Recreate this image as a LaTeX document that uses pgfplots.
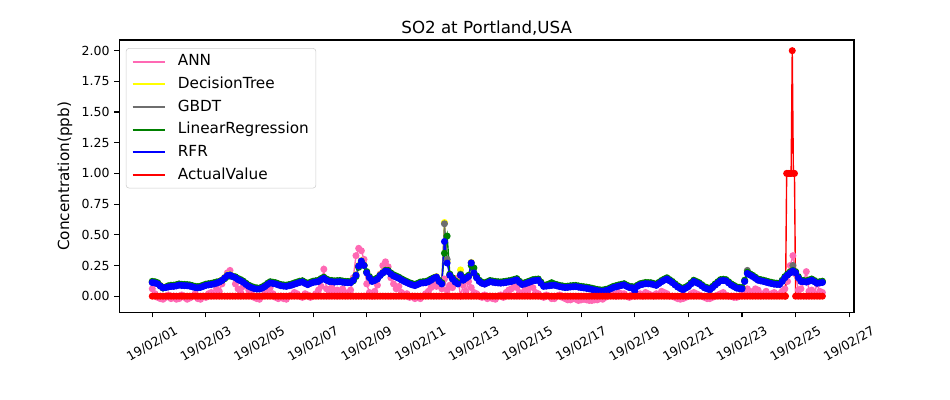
\documentclass[border=0pt]{standalone}
\usepackage{pgfplots}
\pgfplotsset{compat=1.18}
\usepackage{pgfplotstable}
\usepackage{fontspec}
\setmainfont{DejaVu Sans}
\definecolor{annpink}{RGB}{255,105,180}
\definecolor{dtyellow}{RGB}{255,255,0}
\definecolor{gbdtgray}{RGB}{110,110,110}
\definecolor{lrgreen}{RGB}{0,128,0}
\definecolor{rfrblue}{RGB}{0,0,255}
\definecolor{actred}{RGB}{255,0,0}
\definecolor{legframe}{RGB}{204,204,204}

\pgfplotstableread{
x ann dt gbdt lr rfr
0.0 0.06 .116 .113 .121 .111
0.1 0.02 .113 .110 .118 .108
0.2 -0.01 .105 .102 .110 .100
0.3 -0.02 .087 .084 .086 .082
0.4 -0.025 .073 .070 .066 .068
0.5 -0.01 .075 .072 .074 .070
0.6 0.01 .080 .077 .085 .075
0.7 -0.02 .084 .081 .089 .079
0.8 0.00 .085 .082 .090 .080
0.9 -0.025 .089 .086 .094 .084
1.0 -0.02 .095 .092 .100 .090
1.1 0.01 .092 .089 .097 .087
1.2 -0.01 .091 .088 .096 .086
1.3 -0.025 .090 .087 .095 .085
1.4 -0.015 .087 .084 .092 .082
1.5 0.00 .081 .078 .086 .076
1.6 0.02 .075 .072 .080 .070
1.7 -0.02 .073 .070 .078 .068
1.8 -0.025 .077 .074 .082 .072
1.9 0.00 .085 .082 .090 .080
2.0 -0.01 .093 .090 .098 .088
2.1 0.02 .097 .094 .102 .092
2.2 0.03 .100 .097 .105 .095
2.3 0.01 .105 .102 .110 .100
2.4 0.06 .111 .108 .116 .106
2.5 0.04 .120 .117 .120 .115
2.6 0.10 .133 .130 .128 .128
2.7 0.15 .153 .150 .142 .148
2.8 0.19 .173 .170 .160 .168
2.9 0.21 .177 .174 .165 .172
3.0 0.16 .165 .162 .160 .160
3.1 0.10 .155 .152 .158 .150
3.2 0.06 .140 .137 .145 .135
3.3 0.03 .130 .127 .135 .125
3.4 0.08 .117 .114 .122 .112
3.5 0.10 .100 .097 .105 .095
3.6 0.05 .085 .082 .090 .080
3.7 0.02 .075 .072 .080 .070
3.8 -0.01 .067 .064 .072 .062
3.9 -0.02 .063 .060 .068 .058
4.0 -0.025 .063 .060 .066 .058
4.1 0.00 .071 .068 .076 .066
4.2 0.02 .083 .080 .088 .078
4.3 0.05 .100 .097 .105 .095
4.4 0.07 .113 .110 .118 .108
4.5 0.02 .109 .106 .114 .104
4.6 -0.01 .105 .102 .110 .100
4.7 -0.02 .097 .094 .102 .092
4.8 0.00 .090 .087 .095 .085
4.9 -0.02 .087 .084 .092 .082
5.0 -0.025 .085 .082 .090 .080
5.1 0.00 .090 .087 .095 .085
5.2 0.01 .095 .092 .100 .090
5.3 0.03 .103 .100 .108 .098
5.4 0.02 .110 .107 .115 .105
5.5 0.00 .117 .114 .122 .112
5.6 -0.01 .121 .118 .126 .116
5.7 0.02 .109 .106 .114 .104
5.8 0.01 .099 .096 .104 .094
5.9 -0.01 .109 .106 .114 .104
6.0 0.00 .117 .114 .122 .112
6.1 0.02 .121 .118 .126 .116
6.2 0.05 .125 .122 .130 .120
6.3 0.08 .139 .136 .144 .134
6.4 0.22 .150 .147 .155 .145
6.5 0.06 .135 .132 .140 .130
6.6 0.04 .125 .122 .130 .120
6.7 0.07 .123 .120 .128 .118
6.8 0.03 .120 .117 .125 .115
6.9 0.05 .122 .119 .127 .117
7.0 0.02 .123 .120 .128 .118
7.1 0.06 .119 .116 .124 .114
7.2 0.03 .116 .113 .121 .111
7.3 0.01 .115 .112 .120 .110
7.4 0.05 .115 .112 .120 .110
7.5 0.15 .135 .132 .125 .130
7.6 0.33 .175 .172 .160 .170
7.7 0.39 .250 .247 .235 .245
7.8 0.37 .290 .287 .270 .285
7.9 0.30 .255 .252 .250 .250
8.0 0.10 .195 .192 .200 .190
8.1 0.03 .155 .152 .160 .150
8.2 0.00 .125 .122 .130 .120
8.3 0.04 .133 .130 .138 .128
8.4 0.09 .145 .142 .150 .140
8.5 0.18 .173 .170 .170 .168
8.6 0.25 .195 .192 .188 .190
8.7 0.28 .210 .207 .210 .205
8.8 0.24 .205 .202 .210 .200
8.9 0.15 .185 .182 .190 .180
9.0 0.10 .170 .167 .175 .165
9.1 0.06 .160 .157 .165 .155
9.2 0.08 .150 .147 .155 .145
9.3 0.03 .137 .134 .142 .132
9.4 0.01 .125 .122 .130 .120
9.5 0.02 .115 .112 .120 .110
9.6 -0.01 .105 .102 .110 .100
9.7 0.00 .097 .094 .102 .092
9.8 -0.02 .091 .088 .096 .086
9.9 -0.01 .100 .097 .105 .095
10.0 -0.02 .110 .107 .115 .105
10.1 0.00 .113 .110 .118 .108
10.2 0.02 .115 .112 .120 .110
10.3 0.04 .123 .120 .128 .118
10.4 0.07 .135 .132 .140 .130
10.5 0.10 .150 .147 .150 .145
10.6 0.08 .160 .157 .150 .155
10.7 0.12 .125 .122 .130 .120
10.8 0.06 .105 .102 .110 .100
10.9 0.14 .600 .590 .350 .445
11.0 0.05 .280 .300 .490 .270
11.1 0.09 .175 .172 .180 .170
11.2 0.07 .145 .142 .150 .140
11.3 0.12 .120 .117 .125 .115
11.4 0.15 .105 .102 .110 .100
11.5 0.00 .214 .180 .175 .170
11.6 0.09 .135 .132 .140 .130
11.7 0.04 .150 .147 .155 .145
11.8 0.12 .165 .162 .170 .160
11.9 0.07 .275 .272 .250 .270
12.0 0.03 .185 .190 .230 .190
12.1 0.02 .155 .152 .165 .150
12.2 0.00 .125 .122 .130 .120
12.3 -0.01 .110 .107 .115 .105
12.4 0.01 .103 .100 .108 .098
12.5 -0.02 .113 .110 .118 .108
12.6 0.00 .123 .120 .128 .118
12.7 -0.02 .119 .116 .124 .114
12.8 -0.025 .115 .112 .120 .110
12.9 0.00 .113 .110 .118 .108
13.0 0.01 .111 .108 .116 .106
13.1 -0.01 .114 .111 .119 .109
13.2 0.03 .117 .114 .122 .112
13.3 0.05 .121 .118 .126 .116
13.4 0.06 .125 .122 .130 .120
13.5 0.09 .132 .129 .137 .127
13.6 0.07 .138 .135 .143 .133
13.7 0.03 .117 .114 .122 .112
13.8 0.02 .100 .097 .105 .095
13.9 0.05 .105 .102 .110 .100
14.0 0.04 .113 .110 .118 .108
14.1 0.08 .121 .118 .126 .116
14.2 0.07 .130 .127 .135 .125
14.3 0.03 .133 .130 .138 .128
14.4 0.02 .135 .132 .140 .130
14.5 0.00 .110 .107 .115 .105
14.6 -0.01 .085 .082 .090 .080
14.7 0.01 .087 .084 .092 .082
14.8 0.00 .090 .087 .100 .085
14.9 -0.02 .093 .090 .110 .088
15.0 -0.02 .095 .092 .100 .090
15.1 0.00 .089 .086 .094 .084
15.2 0.01 .083 .080 .088 .078
15.3 -0.01 .079 .076 .084 .074
15.4 -0.02 .075 .072 .080 .070
15.5 -0.03 .077 .074 .082 .072
15.6 -0.03 .080 .077 .085 .075
15.7 -0.02 .082 .079 .087 .077
15.8 -0.025 .083 .080 .088 .078
15.9 -0.035 .079 .076 .084 .074
16.0 -0.03 .075 .072 .080 .070
16.1 -0.025 .072 .069 .077 .067
16.2 -0.03 .069 .066 .074 .064
16.3 -0.035 .065 .062 .070 .060
16.4 -0.035 .060 .057 .065 .055
16.5 -0.03 .055 .052 .060 .050
16.6 -0.03 .050 .047 .055 .045
16.7 -0.02 .047 .044 .052 .042
16.8 -0.025 .045 .042 .050 .040
16.9 -0.01 .050 .047 .055 .045
17.0 0.00 .055 .052 .060 .050
17.1 0.01 .065 .062 .070 .060
17.2 0.02 .075 .072 .080 .070
17.3 0.00 .081 .078 .086 .076
17.4 0.03 .087 .084 .092 .082
17.5 0.02 .092 .089 .097 .087
17.6 0.02 .097 .094 .102 .092
17.7 0.00 .085 .082 .090 .080
17.8 -0.01 .075 .072 .080 .070
17.9 0.01 .073 .070 .078 .068
18.0 0.00 .070 .068 .076 .040
18.1 0.01 .085 .082 .090 .080
18.2 0.02 .097 .094 .102 .092
18.3 0.00 .102 .099 .107 .097
18.4 0.03 .107 .104 .112 .102
18.5 0.02 .106 .103 .111 .101
18.6 0.01 .105 .102 .110 .100
18.7 0.00 .099 .096 .104 .094
18.8 0.02 .093 .090 .098 .088
18.9 0.01 .108 .105 .113 .103
19.0 0.04 .123 .120 .128 .118
19.1 0.03 .135 .132 .140 .130
19.2 0.02 .145 .142 .150 .140
19.3 0.00 .130 .127 .135 .125
19.4 0.00 .115 .112 .120 .110
19.5 -0.01 .097 .094 .102 .092
19.6 -0.02 .080 .077 .085 .075
19.7 -0.025 .067 .064 .072 .062
19.8 -0.02 .057 .054 .062 .052
19.9 -0.01 .070 .067 .075 .065
20.0 0.00 .083 .080 .088 .078
20.1 0.02 .105 .102 .110 .100
20.2 0.03 .125 .122 .130 .120
20.3 0.02 .115 .112 .120 .110
20.4 0.01 .105 .102 .110 .100
20.5 0.00 .089 .086 .094 .084
20.6 -0.01 .073 .070 .078 .068
20.7 -0.02 .065 .062 .070 .060
20.8 -0.02 .057 .054 .062 .052
20.9 -0.01 .075 .072 .080 .070
21.0 0.00 .095 .092 .100 .090
21.1 0.01 .113 .110 .118 .108
21.2 0.02 .130 .127 .135 .125
21.3 0.03 .133 .130 .138 .128
21.4 0.01 .130 .127 .135 .125
21.5 0.00 .113 .110 .118 .108
21.6 0.00 .095 .092 .100 .090
21.7 -0.01 .083 .080 .088 .078
21.8 -0.01 .071 .068 .076 .066
21.9 0.00 .067 .064 .072 .062
22.0 0.01 .065 .062 .070 .060
22.1 0.04 .125 .122 .130 .120
22.2 0.06 .190 .210 .195 .185
22.3 0.04 .177 .174 .182 .172
22.4 0.03 .165 .162 .170 .160
22.5 0.06 .150 .147 .155 .145
22.6 0.05 .135 .132 .140 .130
22.7 0.02 .130 .127 .135 .125
22.8 0.02 .125 .122 .130 .120
22.9 0.04 .119 .116 .124 .114
23.0 0.01 .113 .110 .118 .108
23.1 0.02 .108 .105 .113 .103
23.2 0.03 .103 .100 .108 .098
23.3 0.01 .101 .098 .106 .096
23.4 0.02 .100 .097 .105 .095
23.5 0.04 .125 .122 .130 .120
23.6 0.06 .155 .152 .160 .150
23.7 0.12 .177 .174 .182 .172
23.8 0.25 .195 .192 .200 .190
23.9 0.33 .215 .250 .210 .205
24.0 0.18 .195 .192 .200 .190
24.1 0.05 .155 .152 .160 .150
24.2 0.06 .125 .122 .130 .120
24.3 0.12 .123 .120 .128 .118
24.4 0.20 .120 .117 .125 .115
24.5 0.04 .127 .124 .132 .122
24.6 0.05 .135 .132 .140 .130
24.7 0.02 .123 .120 .128 .118
24.8 0.10 .110 .107 .115 .105
24.9 0.04 .113 .110 .118 .108
25.0 0.03 .117 .114 .122 .112
}\models

\pgfplotstableread[row sep=\\]{
x act \\
0.0 0 \\ 0.1 0 \\ 0.2 0 \\ 0.3 0 \\ 0.4 0 \\ 0.5 0 \\ 0.6 0 \\ 0.7 0 \\ 0.8 0 \\ 0.9 0 \\
1.0 0 \\ 1.1 0 \\ 1.2 0 \\ 1.3 0 \\ 1.4 0 \\ 1.5 0 \\ 1.6 0 \\ 1.7 0 \\ 1.8 0 \\ 1.9 0 \\
2.0 0 \\ 2.1 0 \\ 2.2 0 \\ 2.3 0 \\ 2.4 0 \\ 2.5 0 \\ 2.6 0 \\ 2.7 0 \\ 2.8 0 \\ 2.9 0 \\
3.0 0 \\ 3.1 0 \\ 3.2 0 \\ 3.3 0 \\ 3.4 0 \\ 3.5 0 \\ 3.6 0 \\ 3.7 0 \\ 3.8 0 \\ 3.9 0 \\
4.0 0 \\ 4.1 0 \\ 4.2 0 \\ 4.3 0 \\ 4.4 0 \\ 4.5 0 \\ 4.6 0 \\ 4.7 0 \\ 4.8 0 \\ 4.9 0 \\
5.0 0 \\ 5.1 0 \\ 5.2 0 \\ 5.3 0 \\ 5.4 0 \\ 5.5 0 \\ 5.6 0 \\ 5.7 0 \\ 5.8 0 \\ 5.9 0 \\
6.0 0 \\ 6.1 0 \\ 6.2 0 \\ 6.3 0 \\ 6.4 0 \\ 6.5 0 \\ 6.6 0 \\ 6.7 0 \\ 6.8 0 \\ 6.9 0 \\
7.0 0 \\ 7.1 0 \\ 7.2 0 \\ 7.3 0 \\ 7.4 0 \\ 7.5 0 \\ 7.6 0 \\ 7.7 0 \\ 7.8 0 \\ 7.9 0 \\
8.0 0 \\ 8.1 0 \\ 8.2 0 \\ 8.3 0 \\ 8.4 0 \\ 8.5 0 \\ 8.6 0 \\ 8.7 0 \\ 8.8 0 \\ 8.9 0 \\
9.0 0 \\ 9.1 0 \\ 9.2 0 \\ 9.3 0 \\ 9.4 0 \\ 9.5 0 \\ 9.6 0 \\ 9.7 0 \\ 9.8 0 \\ 9.9 0 \\
10.0 0 \\ 10.1 0 \\ 10.2 0 \\ 10.3 0 \\ 10.4 0 \\ 10.5 0 \\ 10.6 0 \\ 10.7 0 \\ 10.8 0 \\ 10.9 0 \\
11.0 0 \\ 11.1 0 \\ 11.2 0 \\ 11.3 0 \\ 11.4 0 \\ 11.5 0 \\ 11.6 0 \\ 11.7 0 \\ 11.8 0 \\ 11.9 0 \\
12.0 0 \\ 12.1 0 \\ 12.2 0 \\ 12.3 0 \\ 12.4 0 \\ 12.5 0 \\ 12.6 0 \\ 12.7 0 \\ 12.8 0 \\ 12.9 0 \\
13.0 0 \\ 13.1 0 \\ 13.2 0 \\ 13.3 0 \\ 13.4 0 \\ 13.5 0 \\ 13.6 0 \\ 13.7 0 \\ 13.8 0 \\ 13.9 0 \\
14.0 0 \\ 14.1 0 \\ 14.2 0 \\ 14.3 0 \\ 14.4 0 \\ 14.5 0 \\ 14.6 0 \\ 14.7 0 \\ 14.8 0 \\ 14.9 0 \\
15.0 0 \\ 15.1 0 \\ 15.2 0 \\ 15.3 0 \\ 15.4 0 \\ 15.5 0 \\ 15.6 0 \\ 15.7 0 \\ 15.8 0 \\ 15.9 0 \\
16.0 0 \\ 16.1 0 \\ 16.2 0 \\ 16.3 0 \\ 16.4 0 \\ 16.5 0 \\ 16.6 0 \\ 16.7 0 \\ 16.8 0 \\ 16.9 0 \\
17.0 0 \\ 17.1 0 \\ 17.2 0 \\ 17.3 0 \\ 17.4 0 \\ 17.5 0 \\ 17.6 0 \\ 17.7 0 \\ 17.8 0 \\ 17.9 0 \\
18.0 0 \\ 18.1 0 \\ 18.2 0 \\ 18.3 0 \\ 18.4 0 \\ 18.5 0 \\ 18.6 0 \\ 18.7 0 \\ 18.8 0 \\ 18.9 0 \\
19.0 0 \\ 19.1 0 \\ 19.2 0 \\ 19.3 0 \\ 19.4 0 \\ 19.5 0 \\ 19.6 0 \\ 19.7 0 \\ 19.8 0 \\ 19.9 0 \\
20.0 0 \\ 20.1 0 \\ 20.2 0 \\ 20.3 0 \\ 20.4 0 \\ 20.5 0 \\ 20.6 0 \\ 20.7 0 \\ 20.8 0 \\ 20.9 0 \\
21.0 0 \\ 21.1 0 \\ 21.2 0 \\ 21.3 0 \\ 21.4 0 \\ 21.5 0 \\ 21.6 0 \\ 21.7 0 \\ 21.8 0 \\ 21.9 0 \\
22.0 0 \\ 22.1 0 \\ 22.2 0 \\ 22.3 0 \\ 22.4 0 \\ 22.5 0 \\ 22.6 0 \\ 22.7 0 \\ 22.8 0 \\ 22.9 0 \\
23.0 0 \\ 23.1 0 \\ 23.2 0 \\ 23.3 0 \\ 23.4 0 \\ 23.5 0 \\ 23.6 0 \\
23.625 0 \\ 23.667 1.0 \\ 23.708 1.0 \\ 23.75 1.0 \\ 23.792 1.0 \\ 23.833 1.0 \\ 23.875 2.0 \\ 23.917 1.0 \\ 23.958 1.0 \\
24.0 0 \\ 24.1 0 \\ 24.2 0 \\ 24.3 0 \\ 24.4 0 \\ 24.5 0 \\ 24.6 0 \\ 24.7 0 \\ 24.8 0 \\ 24.9 0 \\ 25.0 0 \\
}\actual

\begin{document}
\begin{tikzpicture}
\useasboundingbox (-85.9pt,-62.9pt) rectangle (598.1pt,225.1pt);
\begin{axis}[
  at={(0pt,0pt)}, anchor=south west,
  scale only axis, width=529pt, height=196.3pt,
  xmin=-1.23, xmax=26.18, ymin=-0.134, ymax=2.087,
  xtick={0,2,4,6,8,10,12,14,16,18,20,22,24,26},
  xticklabels={19/02/01,19/02/03,19/02/05,19/02/07,19/02/09,19/02/11,19/02/13,19/02/15,19/02/17,19/02/19,19/02/21,19/02/23,19/02/25,19/02/27},
  ytick={0,0.25,0.5,0.75,1,1.25,1.5,1.75,2},
  yticklabel style={/pgf/number format/fixed,/pgf/number format/fixed zerofill,/pgf/number format/precision=2},
  /pgf/number format/assume math mode=true,
  xtick pos=left, ytick pos=left,
  tick align=outside, major tick length=3.5pt,
  every tick/.style={black, line width=0.8pt},
  axis line style={line width=0.8pt},
  ticklabel style={font=\fontsize{9}{10}\selectfont},
  xticklabel style={anchor=center, yshift=-19pt, rotate=30},
  ylabel={Concentration(ppb)},
  ylabel style={font=\fontsize{11}{13}\selectfont, at={(axis description cs:-0.0739,0.5)}, anchor=center},
  title={SO2 at Portland,USA},
  title style={font=\fontsize{12}{14}\selectfont, at={(axis description cs:0.5,1)}, anchor=base, yshift=-1.2pt},
  legend style={at={(0.009,0.970)}, anchor=north west, draw=legframe, rounded corners=2pt,
    font=\fontsize{11}{13}\selectfont, inner xsep=4pt, inner ysep=3pt, row sep=3.3pt,
    nodes={inner sep=1pt, text height=8.5pt, text depth=2.5pt}, fill=white},
  legend cell align=left,
]
\addplot[annpink, mark=*, mark size=2pt, line width=1pt,
  legend image code/.code={\draw[annpink, line width=1.4pt] (0pt,0pt) -- (23pt,0pt); \path (31pt,0pt);}]
  table[x=x,y=ann]{\models};
\addlegendentry{ANN}
\addplot[dtyellow, mark=*, mark size=2pt, line width=1pt,
  legend image code/.code={\draw[dtyellow, line width=1.4pt] (0pt,0pt) -- (23pt,0pt); \path (31pt,0pt);}]
  table[x=x,y=dt]{\models};
\addlegendentry{DecisionTree}
\addplot[gbdtgray, mark=*, mark size=2pt, line width=1pt,
  legend image code/.code={\draw[gbdtgray, line width=1.4pt] (0pt,0pt) -- (23pt,0pt); \path (31pt,0pt);}]
  table[x=x,y=gbdt]{\models};
\addlegendentry{GBDT}
\addplot[lrgreen, mark=*, mark size=2pt, line width=1pt,
  legend image code/.code={\draw[lrgreen, line width=1.4pt] (0pt,0pt) -- (23pt,0pt); \path (31pt,0pt);}]
  table[x=x,y=lr]{\models};
\addlegendentry{LinearRegression}
\addplot[rfrblue, mark=*, mark size=2pt, line width=1pt,
  legend image code/.code={\draw[rfrblue, line width=1.4pt] (0pt,0pt) -- (23pt,0pt); \path (31pt,0pt);}]
  table[x=x,y=rfr]{\models};
\addlegendentry{RFR}
\addplot[actred, mark=*, mark size=2pt, line width=1pt,
  legend image code/.code={\draw[actred, line width=1.4pt] (0pt,0pt) -- (23pt,0pt); \path (31pt,0pt);}]
  table[x=x,y=act]{\actual};
\addlegendentry{ActualValue}
\end{axis}
\end{tikzpicture}
\end{document}
